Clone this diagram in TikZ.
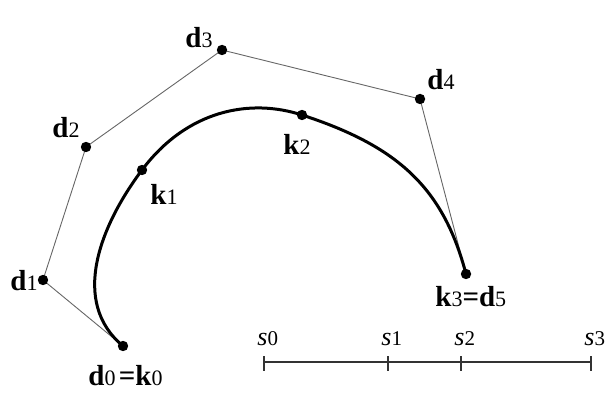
\documentclass[tikz,border=0pt]{standalone}
\usepackage{fontspec}
\setmainfont{Liberation Serif}
\newcommand{\blab}[2]{{\fontsize{14.5}{16}\selectfont\bfseries #1}{\fontsize{11}{12}\selectfont #2}}
\newcommand{\slab}[1]{{\fontsize{13}{14}\selectfont\itshape s}{\fontsize{10.5}{12}\selectfont #1}}
\begin{document}
\begin{tikzpicture}[x=0.5pt,y=-0.5pt,
  poly/.style={black!60,line width=0.45pt},
  curve/.style={line width=1.5pt},
  axis/.style={black!80,line width=0.6pt},
  lbl/.style={inner sep=0pt,anchor=base west}]
\useasboundingbox (0,0) rectangle (614,400);
\pgfmathsetmacro{\ky}{362}
\pgfmathsetmacro{\kup}{6}
\pgfmathsetmacro{\kdn}{9}
% control points
\foreach \n/\x/\y in {d0/123/346,d1/43/280,d2/86/147,d3/222/50,d4/420/99,d5/466/274,k1/142/170,k2/302/115}{\coordinate(\n) at (\x,\y);}
\draw[poly](d0)--(d1)--(d2)--(d3)--(d4)--(d5);
\draw[curve](d0) .. controls (70,302) and (100,226) .. (k1) .. controls (187,110) and (250,98) .. (k2) .. controls (397,146) and (443.1,187) .. (d5);
\foreach \n in {d0,d1,d2,d3,d4,d5,k1,k2}{\fill(\n) circle (2.6pt);}
% labels
\node[lbl](ld0) at (88,385) {\blab{d}{0}\,\blab{=k}{0}};
\node[lbl](ld1) at (10,290) {\blab{d}{1}};
\node[lbl](ld2) at (52,138) {\blab{d}{2}};
\node[lbl](ld3) at (185,48) {\blab{d}{3}};
\node[lbl](ld4) at (427,90) {\blab{d}{4}};
\node[lbl](lk1) at (150,205) {\blab{k}{1}};
\node[lbl](lk2) at (283,155) {\blab{k}{2}};
\node[lbl](ld5) at (435,306) {\blab{k}{3}\blab{=d}{5}};
% parameter axis
\foreach \i/\x in {0/264,1/388,2/461,3/591}{\coordinate(s\i) at (\x,\ky); \draw[axis](\x,\ky-\kup)--(\x,\ky+\kdn); \node[lbl](ls\i) at (\x-7,345) {\slab{\i}};}
\draw[axis](s0)--(s3);
\end{tikzpicture}
\end{document}
